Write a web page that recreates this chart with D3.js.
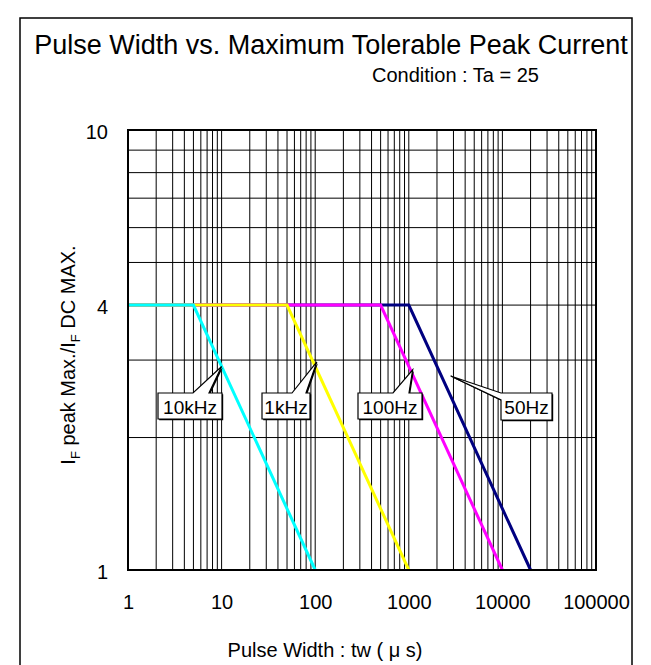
<!DOCTYPE html>
<html>
<head>
<meta charset="utf-8">
<script src="https://cdn.jsdelivr.net/npm/d3@7"></script>
<style>
  body { margin: 0; background: #fff; }
  text { font-family: 'Liberation Sans', Arial, sans-serif; fill: #000; }
</style>
</head>
<body>
<svg width="651" height="665"></svg>
<script>
// chart values
const seriesNames = ['50Hz', '100Hz', '1kHz', '10kHz'];
const seriesColors = ['#000080', '#ff00ff', '#ffff00', '#00ffff'];
const peakLevel = 4;
const startWidths = [1, 1, 1, 1];
const breakWidths = [1000, 500, 50, 5];
const endWidths = [20000, 10000, 1000, 100];
const xTicks = [1, 10, 100, 1000, 10000, 100000];
const yTicks = [1, 4, 10];
// where each callout points to (data coords)
const calloutTipX = [2800, 1100, 104, 10];
const calloutTipY = [2.76, 2.85, 2.97, 2.9];

const svg = d3.select('svg');
const margin = { top: 130, right: 55, bottom: 95, left: 128 };
const width = +svg.attr('width') - margin.left - margin.right;
const height = +svg.attr('height') - margin.top - margin.bottom;

// outer frame
svg
  .append('rect')
  .attr('x', 20)
  .attr('y', 18)
  .attr('width', 612)
  .attr('height', 660)
  .attr('fill', 'none')
  .attr('stroke', '#000')
  .attr('stroke-width', 1.5);

svg
  .append('text')
  .attr('x', 331)
  .attr('y', 54)
  .attr('text-anchor', 'middle')
  .attr('font-size', 27)
  .text('Pulse Width vs. Maximum Tolerable Peak Current');

svg
  .append('text')
  .attr('x', 372)
  .attr('y', 82)
  .attr('font-size', 20)
  .text('Condition : Ta = 25');

const g = svg
  .append('g')
  .attr('transform', `translate(${margin.left}, ${margin.top})`);

const x = d3.scaleLog().domain([1, 100000]).range([0, width]);
const y = d3.scaleLog().domain([1, 10]).range([height, 0]);

// grid lines at 1..9 of every decade
const xGrid = [];
for (let d = 1; d < 100000; d *= 10)
  for (let k = 2; k <= 10; k++) xGrid.push(d * k);
const yGrid = d3.range(2, 10);

g
  .append('g')
  .selectAll('line')
  .data(xGrid)
  .enter()
  .append('line')
  .attr('x1', d => x(d))
  .attr('x2', d => x(d))
  .attr('y1', 0)
  .attr('y2', height)
  .attr('stroke', '#000')
  .attr('stroke-width', 1);

g
  .append('g')
  .selectAll('line')
  .data(yGrid)
  .enter()
  .append('line')
  .attr('x1', 0)
  .attr('x2', width)
  .attr('y1', d => y(d))
  .attr('y2', d => y(d))
  .attr('stroke', '#000')
  .attr('stroke-width', 1);

// Curves
const line = d3
  .line()
  .x(d => x(d[0]))
  .y(d => y(d[1]));

g
  .append('g')
  .selectAll('path')
  .data(seriesNames)
  .enter()
  .append('path')
  .attr('d', (d, i) =>
    line([
      [startWidths[i], peakLevel],
      [breakWidths[i], peakLevel],
      [endWidths[i], 1]
    ])
  )
  .attr('fill', 'none')
  .attr('stroke', (d, i) => seriesColors[i])
  .attr('stroke-width', 3);

// plot border
g
  .append('rect')
  .attr('width', width)
  .attr('height', height)
  .attr('fill', 'none')
  .attr('stroke', '#000')
  .attr('stroke-width', 2);

// X-Axis labels
g
  .append('g')
  .attr('transform', `translate(0,${height + 22})`)
  .call(
    d3
      .axisBottom(x)
      .tickValues(xTicks)
      .tickFormat(d3.format('d'))
      .tickSize(0)
  )
  .call(a => a.select('.domain').remove())
  .selectAll('text')
  .attr('font-size', 20)
  .attr('font-family', "'Liberation Sans', Arial, sans-serif");

// Y-Axis labels
g
  .append('g')
  .attr('transform', 'translate(-17,2)')
  .call(
    d3
      .axisLeft(y)
      .tickValues(yTicks)
      .tickFormat(d3.format('d'))
      .tickSize(0)
  )
  .call(a => a.select('.domain').remove())
  .selectAll('text')
  .attr('font-size', 20)
  .attr('font-family', "'Liberation Sans', Arial, sans-serif");

svg
  .append('text')
  .attr('x', 325)
  .attr('y', 657)
  .attr('text-anchor', 'middle')
  .attr('font-size', 20)
  .text('Pulse Width : tw ( μ s)');

const yt = svg
  .append('text')
  .attr('transform', 'translate(75,355) rotate(-90)')
  .attr('text-anchor', 'middle')
  .attr('font-size', 20);
yt.append('tspan').text('I');
yt.append('tspan').attr('font-size', 13).attr('dy', 5).text('F');
yt.append('tspan').attr('dy', -5).text(' peak Max./I');
yt.append('tspan').attr('font-size', 13).attr('dy', 5).text('F');
yt.append('tspan').attr('dy', -5).text(' DC MAX.');

// Callouts: box [left, top, w, h] and pointer base on box edge
const boxes = [
  { box: [373, 263, 51, 27], base: [[373, 263], [373, 270]] },
  { box: [230, 263, 64, 26], base: [[265, 263], [281, 263]] },
  { box: [134, 263, 48, 26], base: [[164, 263], [178, 263]] },
  { box: [30, 263, 64, 26], base: [[65, 263], [81, 263]] }
];

function calloutPath(b, tip) {
  const [l, t, w, h] = b.box;
  const [p1, p2] = b.base;
  if (p1[0] === l && p2[0] === l) {
    // pointer on left edge
    return `M${l},${t}L${l + w},${t}L${l + w},${t + h}L${l},${t + h}L${l},${p2[1]}L${tip[0]},${tip[1]}L${l},${p1[1]}Z`;
  }
  return `M${l},${t}L${p1[0]},${t}L${tip[0]},${tip[1]}L${p2[0]},${t}L${l + w},${t}L${l + w},${t + h}L${l},${t + h}Z`;
}

const callouts = g
  .append('g')
  .selectAll('g')
  .data(seriesNames)
  .enter()
  .append('g');

callouts
  .append('path')
  .attr('transform', 'translate(1.2,1.2)')
  .attr('d', (d, i) => calloutPath(boxes[i], [x(calloutTipX[i]), y(calloutTipY[i])]))
  .attr('fill', '#000');

callouts
  .append('path')
  .attr('d', (d, i) => calloutPath(boxes[i], [x(calloutTipX[i]), y(calloutTipY[i])]))
  .attr('fill', '#fff')
  .attr('stroke', '#000')
  .attr('stroke-width', 1.2);

callouts
  .append('text')
  .attr('x', (d, i) => boxes[i].box[0] + boxes[i].box[2] / 2)
  .attr('y', (d, i) => boxes[i].box[1] + 21)
  .attr('text-anchor', 'middle')
  .attr('font-size', 19)
  .text(d => d);
</script>
</body>
</html>
